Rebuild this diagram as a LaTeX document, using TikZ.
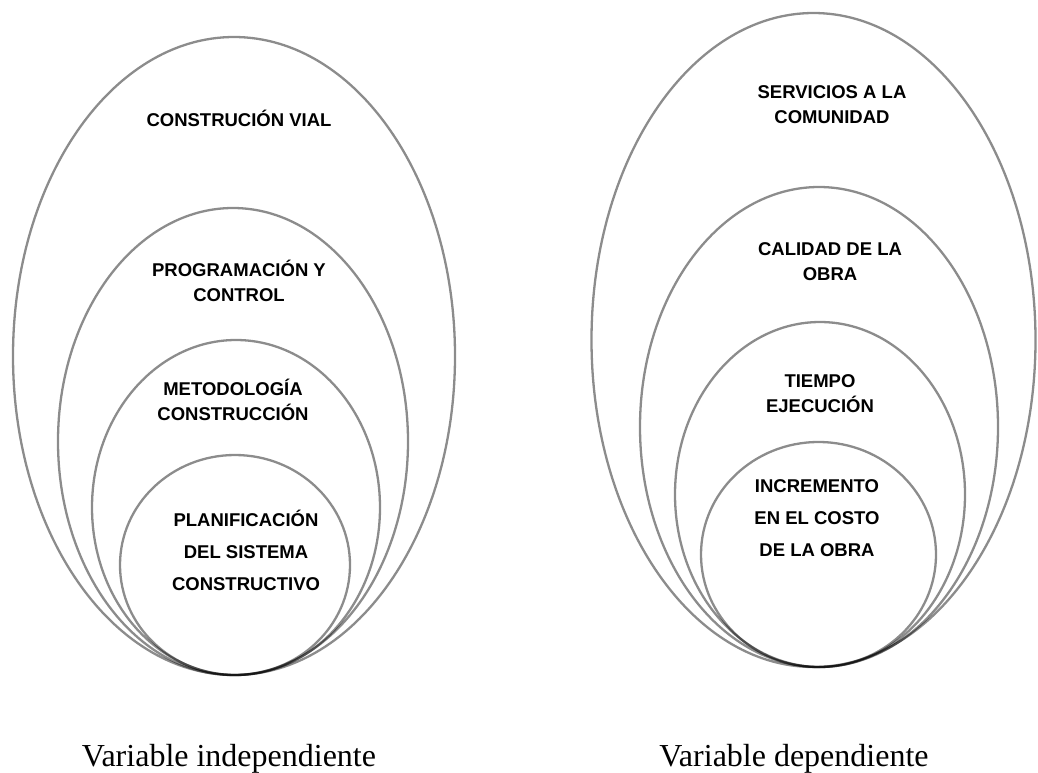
\documentclass[tikz,border=0pt]{standalone}
\usepackage{fontspec}
\setmainfont{Liberation Serif}
\newfontfamily\labelfont{Liberation Sans}
\begin{document}
\begin{tikzpicture}[x=1pt,y=-1pt,
  ring/.style={draw=black,draw opacity=0.45,line width=2.3pt},
  lbl/.style={font=\labelfont\bfseries\fontsize{18.5}{25}\selectfont,align=center,inner sep=0pt},
  lblwide/.style={lbl,font=\labelfont\bfseries\fontsize{18.5}{32}\selectfont},
  caption/.style={font=\fontsize{32}{36}\selectfont,anchor=base,inner sep=0pt}]
\useasboundingbox (0,0) rectangle (1038,772);

% independent variable: nested ellipses tangent at the bottom
\draw[ring] (234,356) ellipse [x radius=221, y radius=319];
\draw[ring] (233,441.5) ellipse [x radius=175, y radius=233.5];
\draw[ring] (236,507.5) ellipse [x radius=144, y radius=167.5];
\draw[ring] (235,565) ellipse [x radius=115, y radius=110];

% dependent variable: nested ellipses tangent at the bottom
\draw[ring] (813.5,340) ellipse [x radius=222, y radius=327];
\draw[ring] (819,427) ellipse [x radius=179, y radius=240];
\draw[ring] (820,494.5) ellipse [x radius=145, y radius=172.5];
\draw[ring] (818.5,554.5) ellipse [x radius=117.5, y radius=112.5];

% labels, left set
\node[lbl] (vial) at (239,118) {CONSTRUCIÓN VIAL};
\node[lbl] (prog) at (239,280.5) {PROGRAMACIÓN Y\\CONTROL};
\node[lbl] (meto) at (233,399.5) {METODOLOGÍA\\CONSTRUCCIÓN};
\node[lblwide] (plan) at (246,550) {PLANIFICACIÓN\\DEL SISTEMA\\CONSTRUCTIVO};

% labels, right set
\node[lbl] (serv) at (832,105) {SERVICIOS A LA\\COMUNIDAD};
\node[lbl] (cali) at (830,262) {CALIDAD DE LA\\OBRA};
\node[lbl] (tiem) at (820,394) {TIEMPO\\EJECUCIÓN};
\node[lblwide] (incr) at (817,518) {INCREMENTO\\EN EL COSTO\\DE LA OBRA};

% captions
\node[caption] (indep) at (229,766) {Variable independiente};
\node[caption] (dep) at (794,766) {Variable dependiente};
\end{tikzpicture}
\end{document}
